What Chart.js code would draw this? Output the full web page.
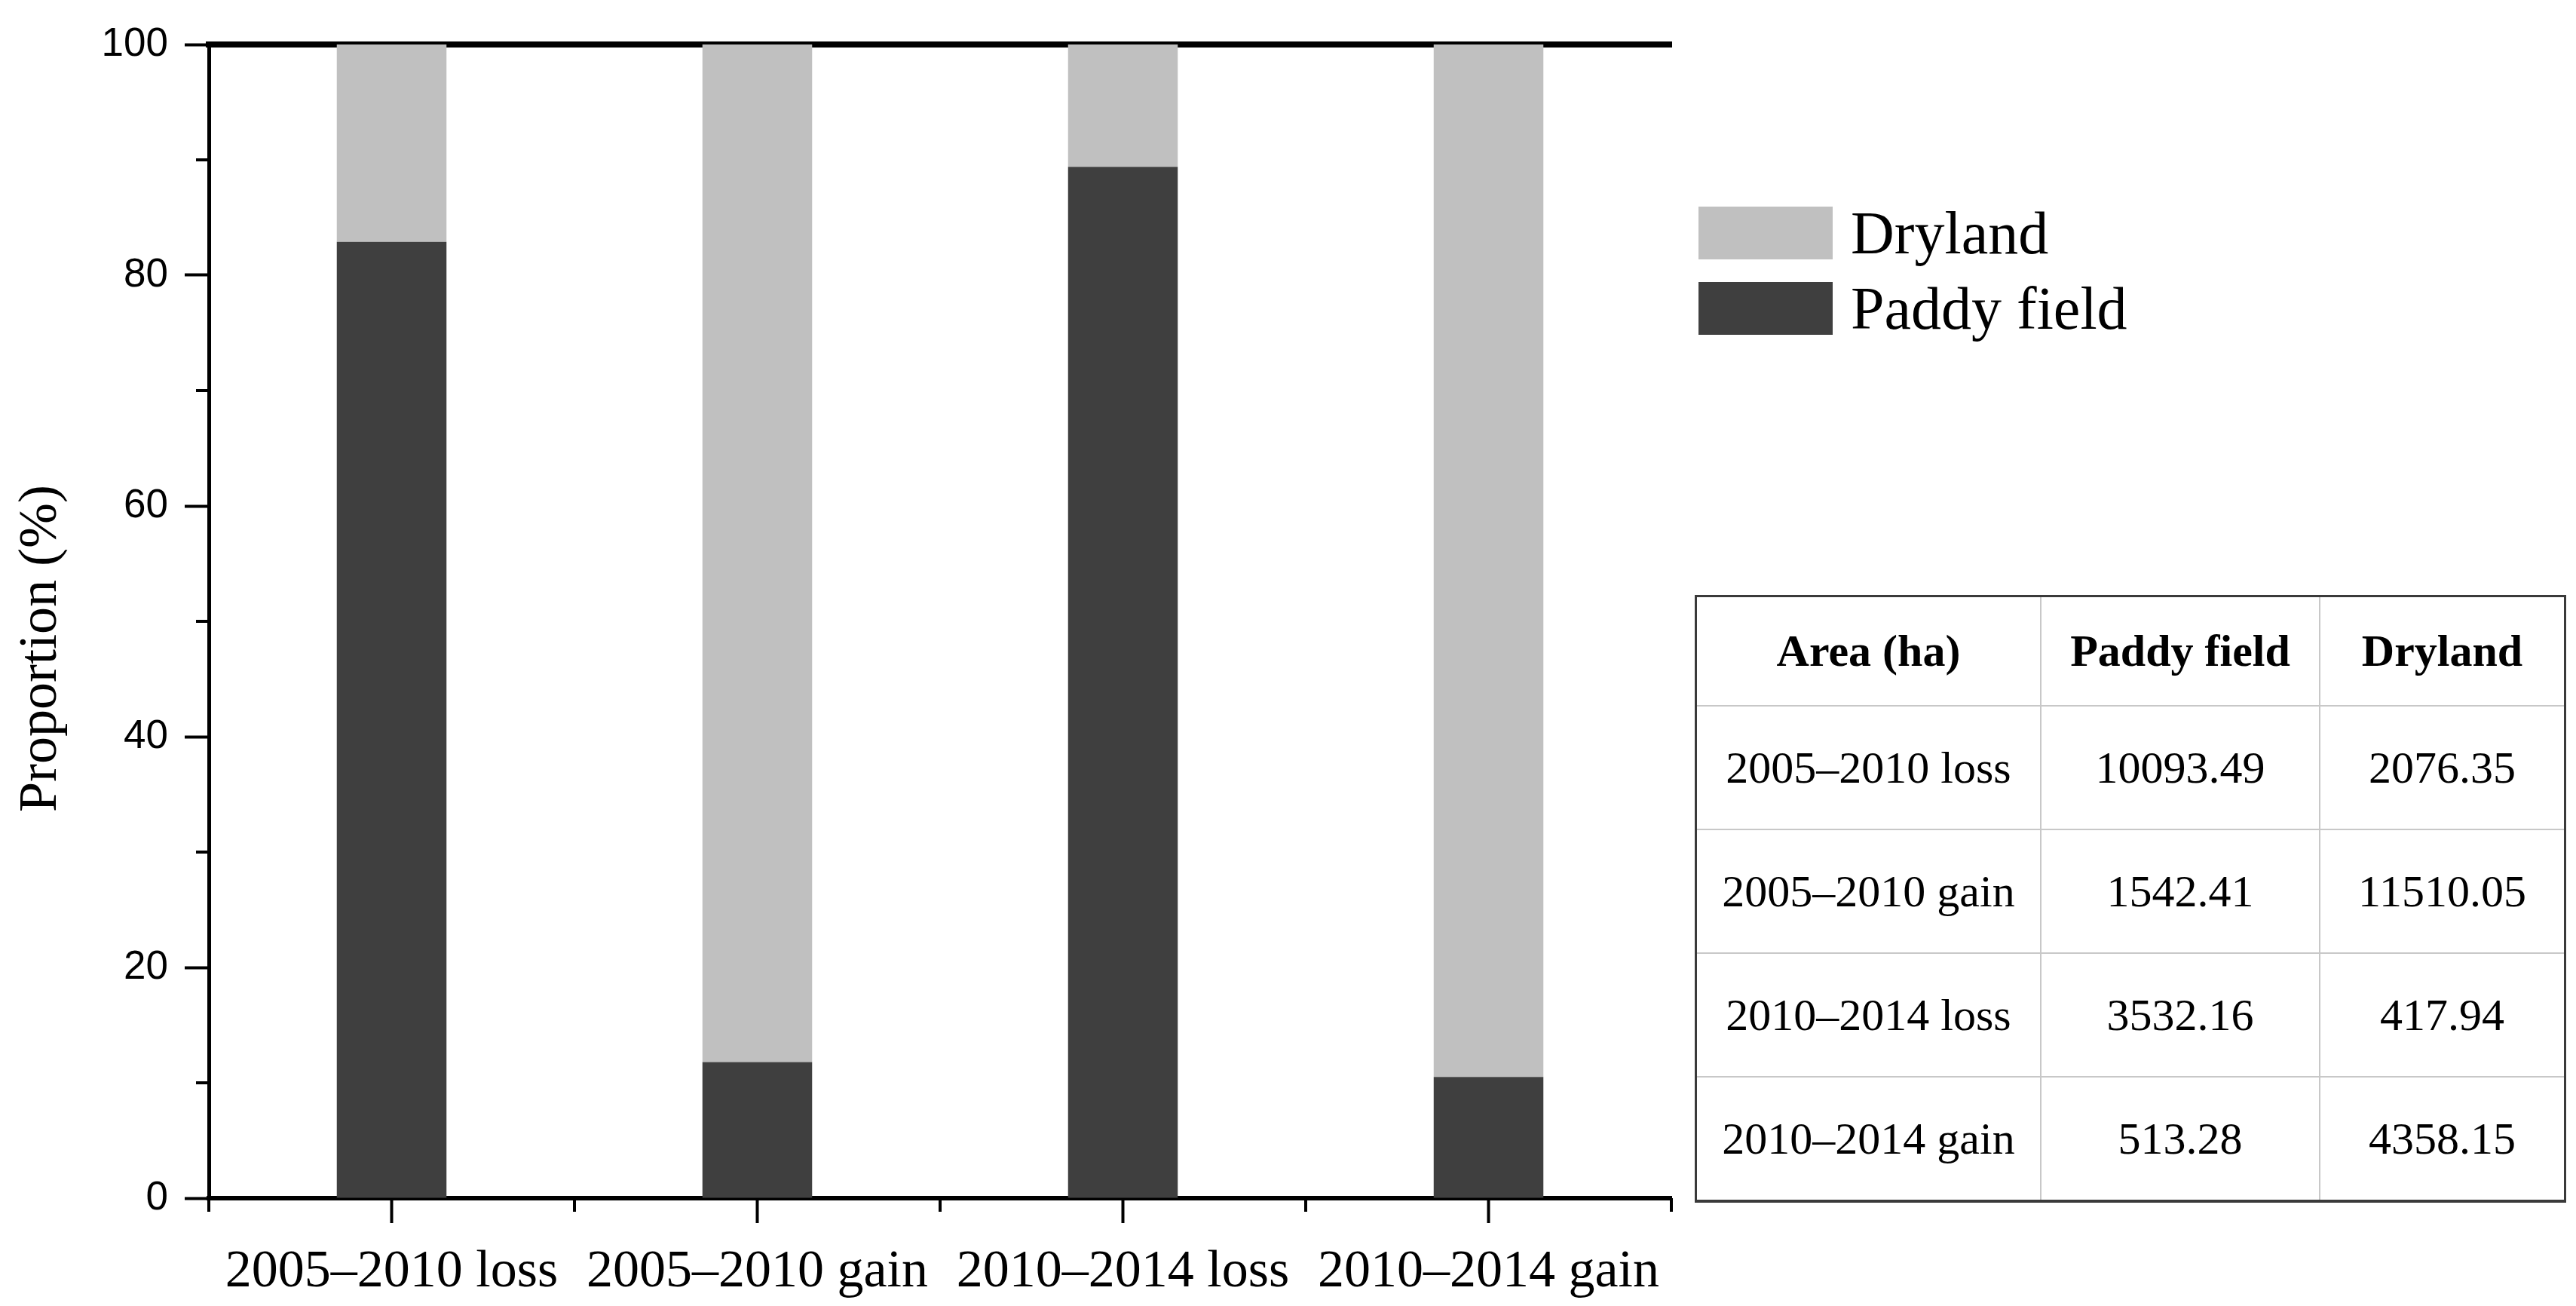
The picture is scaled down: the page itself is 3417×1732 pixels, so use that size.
<!DOCTYPE html>
<html>
<head>
<meta charset="utf-8">
<script src="https://cdn.jsdelivr.net/npm/chart.js@4.4.1/dist/chart.umd.min.js"></script>
<style>
  html, body { margin: 0; padding: 0; background: #fff; }
  body { width: 3417px; height: 1732px; position: relative; overflow: hidden; }
  #grafica { position: absolute; left: 0; top: 0; }
  #leyenda { position: absolute; left: 2253px; top: 274px; font-family: "Liberation Serif", serif; font-size: 80px; color: #000; }
  .item { display: flex; align-items: center; height: 70px; margin-bottom: 30px; }
  .muestra { width: 178px; height: 70px; margin-right: 24px; }
  .item span { line-height: 70px; }
  #tabla { position: absolute; left: 2248px; top: 789px; width: 1156px; border-collapse: collapse;
    font-family: "Liberation Serif", serif; font-size: 60px; color: #000; border: 3px solid #3a3a3a; }
  #tabla td, #tabla th { border: 2px solid #c8c8c8; text-align: center; padding: 0; }
  #tabla th { font-weight: bold; height: 143px; }
  #tabla td { height: 162px; }
  #tabla tr:first-child th { border-top: 3px solid #3a3a3a; }
  #tabla tr:last-child td { border-bottom: 4px solid #3a3a3a; }
  #tabla tr > :first-child { border-left: 3px solid #3a3a3a; }
  #tabla tr > :last-child { border-right: 3px solid #3a3a3a; }
</style>
</head>
<body>
<canvas id="grafica" width="2300" height="1732"></canvas>
<div id="leyenda"></div>
<table id="tabla"></table>
<script>
// categorías del eje x
const CATEGORIAS = ["2005–2010 loss", "2005–2010 gain", "2010–2014 loss", "2010–2014 gain"];
const ARROZAL = [82.9, 11.8, 89.4, 10.5];
const SECANO = [17.1, 88.2, 10.6, 89.5];
// marcas secundarias
const MENORES_Y = [10, 30, 50, 70, 90];
// tabla de áreas (ha)
const CABECERA = ["Area (ha)", "Paddy field", "Dryland"];
const AREA_ARROZAL = ["10093.49", "1542.41", "3532.16", "513.28"];
const AREA_SECANO = ["2076.35", "11510.05", "417.94", "4358.15"];

const COLOR_ARROZAL = "#3f3f3f";
const COLOR_SECANO = "#c0c0c0";

// dibuja marcas menores y el título del eje y
const extras = {
  id: "extras",
  afterDraw(chart) {
    const ctx = chart.ctx;
    const x = chart.scales.x;
    const y = chart.scales.y;
    const area = chart.chartArea;
    ctx.save();
    ctx.strokeStyle = "#000";
    ctx.lineWidth = 4;
    MENORES_Y.forEach((v) => {
      const py = y.getPixelForValue(v);
      ctx.beginPath();
      ctx.moveTo(area.left - 17, py);
      ctx.lineTo(area.left, py);
      ctx.stroke();
    });
    for (let i = 0; i <= CATEGORIAS.length; i++) {
      const px = x.getPixelForValue(i - 0.5);
      ctx.beginPath();
      ctx.moveTo(px, area.bottom);
      ctx.lineTo(px, area.bottom + 18);
      ctx.stroke();
    }
    ctx.translate(55, 860);
    ctx.rotate(-Math.PI / 2);
    ctx.fillStyle = "#000";
    ctx.font = '72px "Liberation Serif"';
    ctx.textAlign = "center";
    ctx.textBaseline = "middle";
    ctx.fillText("Proportion (%)", 0, 0);
    ctx.restore();
  },
};

const datos = {
  labels: CATEGORIAS,
  datasets: [
    { label: "Paddy field", data: ARROZAL, backgroundColor: COLOR_ARROZAL },
    { label: "Dryland", data: SECANO, backgroundColor: COLOR_SECANO },
  ],
};

new Chart(document.getElementById("grafica"), {
  type: "bar",
  data: datos,
  options: {
    responsive: false,
    devicePixelRatio: 1,
    animation: false,
    categoryPercentage: 1,
    barPercentage: 0.3,
    layout: { padding: { top: 59, right: 83, left: 0, bottom: 0 } },
    plugins: { legend: { display: false }, tooltip: { enabled: false } },
    scales: {
      x: {
        stacked: true,
        offset: true,
        afterFit(s) { s.height = 143; },
        border: { display: true, color: "#000", width: 6 },
        grid: { offset: false, drawOnChartArea: false, drawTicks: true, tickLength: 33, tickWidth: 4, tickColor: "#000" },
        ticks: { color: "#000", padding: 24, maxRotation: 0, autoSkip: false,
          font: { family: "Liberation Serif", size: 70 } },
      },
      x2: {
        position: "top",
        afterFit(s) { s.height = 0; },
        border: { display: true, color: "#000", width: 8 },
        grid: { drawOnChartArea: false, drawTicks: false },
        ticks: { display: false },
      },
      y: {
        stacked: true,
        min: 0,
        max: 100,
        afterFit(s) { s.width = 277; },
        border: { display: true, color: "#000", width: 5 },
        grid: {
          drawOnChartArea: false, drawTicks: true, tickLength: 32, tickWidth: 4,
          tickColor: (c) => (c.tick && c.tick.value % 20 === 0 ? "#000" : "rgba(0,0,0,0)"),
        },
        ticks: {
          stepSize: 20, color: "#000", padding: 22,
          font: { family: "Liberation Sans", size: 53 },
        },
      },
    },
  },
  plugins: [extras],
});

// leyenda: Dryland arriba, Paddy field abajo
const $leyenda = document.getElementById("leyenda");
datos.datasets.slice().reverse().forEach((ds) => {
  const $item = document.createElement("div");
  $item.className = "item";
  $item.innerHTML = `<div class="muestra" style="background:${ds.backgroundColor}"></div><span>${ds.label}</span>`;
  $leyenda.appendChild($item);
});

// tabla de áreas
const $tabla = document.getElementById("tabla");
let html = "<tr>" + CABECERA.map((c) => `<th>${c}</th>`).join("") + "</tr>";
CATEGORIAS.forEach((cat, i) => {
  html += `<tr><td style="width:455px">${cat}</td><td style="width:368px">${AREA_ARROZAL[i]}</td><td>${AREA_SECANO[i]}</td></tr>`;
});
$tabla.innerHTML = html;
</script>
</body>
</html>
